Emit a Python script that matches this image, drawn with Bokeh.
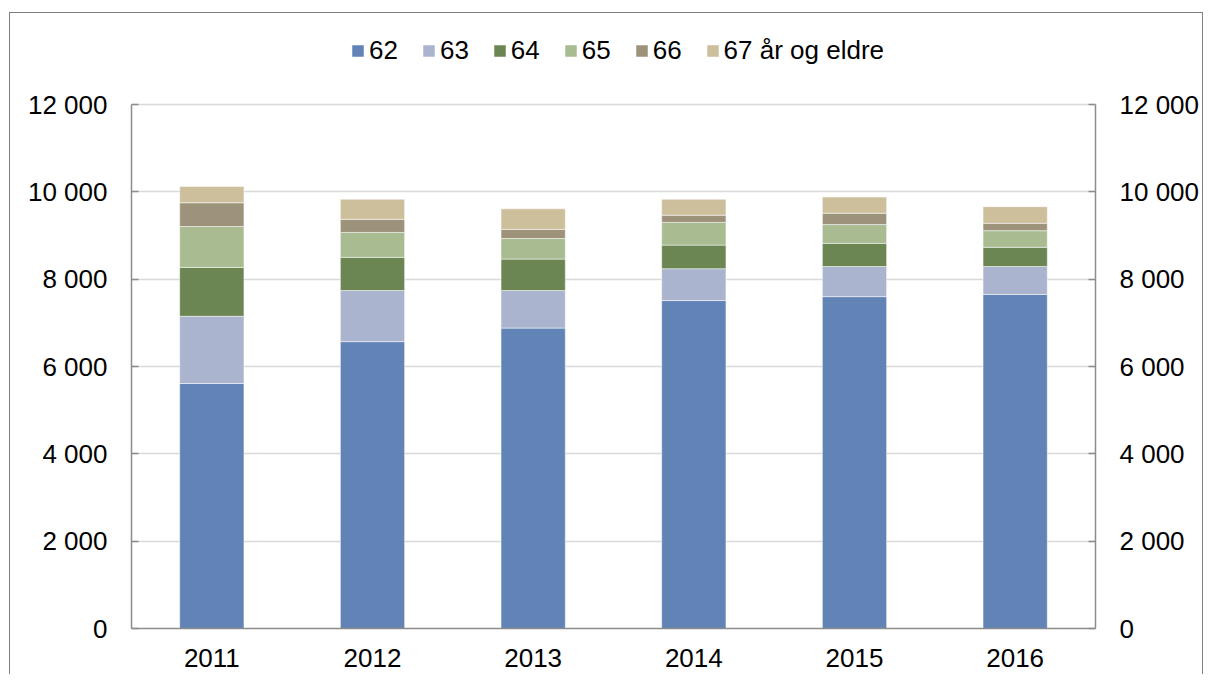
from bokeh.plotting import figure
from bokeh.models import (Range1d, LinearAxis, Legend, LegendItem, FixedTicker,
                          CustomJSTickFormatter, ColumnDataSource)
from bokeh.embed import file_html
from bokeh.resources import INLINE

years = ["2011", "2012", "2013", "2014", "2015", "2016"]
age62 = [5610, 6570, 6880, 7510, 7600, 7650]
age63 = [1540, 1170, 860, 730, 690, 640]
age64 = [1120, 760, 720, 540, 530, 440]
age65 = [935, 570, 470, 520, 430, 380]
age66 = [545, 300, 210, 165, 260, 170]
age67 = [370, 460, 470, 365, 370, 380]

series_keys = ["a62", "a63", "a64", "a65", "a66", "a67"]
series_labels = ["62", "63", "64", "65", "66", "67 år og eldre"]
colors = ["#6283B6", "#ABB4CE", "#6B8553", "#A8BB91", "#9D937B", "#CDBE9C"]
y_ticks = [0, 2000, 4000, 6000, 8000, 10000, 12000]
y_max = 12000

source = ColumnDataSource(dict(years=years, a62=age62, a63=age63, a64=age64,
                               a65=age65, a66=age66, a67=age67))

FONT = "Liberation Sans"
FS = "26px"

PLOT_H = 524           # pixel height of the 0..12000 part
FRAME_H = 605          # frame extends above 12000 to hold the legend
top_val = y_max * FRAME_H / PLOT_H

p = figure(x_range=years, y_range=Range1d(0, top_val),
           frame_width=964, frame_height=FRAME_H,
           min_border_left=121, min_border_right=107,
           min_border_top=10, min_border_bottom=46,
           output_backend="svg", toolbar_location=None,
           styles={"border-left": "1px solid #7f7f7f", "border-top": "1px solid #7f7f7f",
                   "border-right": "1px solid #7f7f7f",
                   "margin-left": "9px", "margin-top": "12px"})
p.outline_line_color = None
p.background_fill_color = "white"
p.border_fill_color = "white"

renderers = p.vbar_stack(series_keys, x="years", width=0.4, source=source,
                         color=colors, line_color="white", line_alpha=0.5, line_width=1)

fmt = CustomJSTickFormatter(code="""
    return tick.toFixed(0).replace(/\\B(?=(\\d{3})+(?!\\d))/g, ' ');
""")
yax = p.yaxis[0]
yax.ticker = FixedTicker(ticks=y_ticks)
yax.formatter = fmt
right = LinearAxis(ticker=FixedTicker(ticks=y_ticks), formatter=fmt)
p.add_layout(right, "right")
for ax in (yax, right):
    ax.bounds = (0, y_max)
    ax.axis_line_color = "#8c8c8c"
    ax.axis_line_width = 1.5
    ax.major_tick_line_color = "#8c8c8c"
    ax.major_tick_line_width = 1.5
    ax.major_tick_in = 7
    ax.major_tick_out = 0
    ax.minor_tick_line_color = None
    ax.major_label_text_font = FONT
    ax.major_label_text_font_size = FS
    ax.major_label_text_color = "black"
    ax.major_label_standoff = 24

xax = p.xaxis[0]
xax.axis_line_color = "#8c8c8c"
xax.axis_line_width = 1.5
xax.major_tick_line_color = None
xax.minor_tick_line_color = None
xax.major_label_text_font = FONT
xax.major_label_text_font_size = FS
xax.major_label_text_color = "black"
xax.major_label_standoff = 14

p.xgrid.grid_line_color = None
p.ygrid.ticker = FixedTicker(ticks=y_ticks)
p.ygrid.bounds = (0, y_max)
p.ygrid.grid_line_color = "#d9d9d9"
p.ygrid.grid_line_width = 1.5

items = [LegendItem(label=lab, renderers=[r]) for lab, r in zip(series_labels, renderers)]
legend = Legend(items=items, orientation="horizontal", location=(219, 562))
legend.label_text_font = FONT
legend.label_text_font_size = FS
legend.label_text_color = "black"
legend.glyph_width = 15
legend.glyph_height = 15
legend.label_standoff = 4
legend.spacing = 23
legend.padding = 0
legend.margin = 0
legend.border_line_color = None
legend.background_fill_alpha = 0
p.add_layout(legend, "center")

open("out.html", "w").write(file_html(p, INLINE))
